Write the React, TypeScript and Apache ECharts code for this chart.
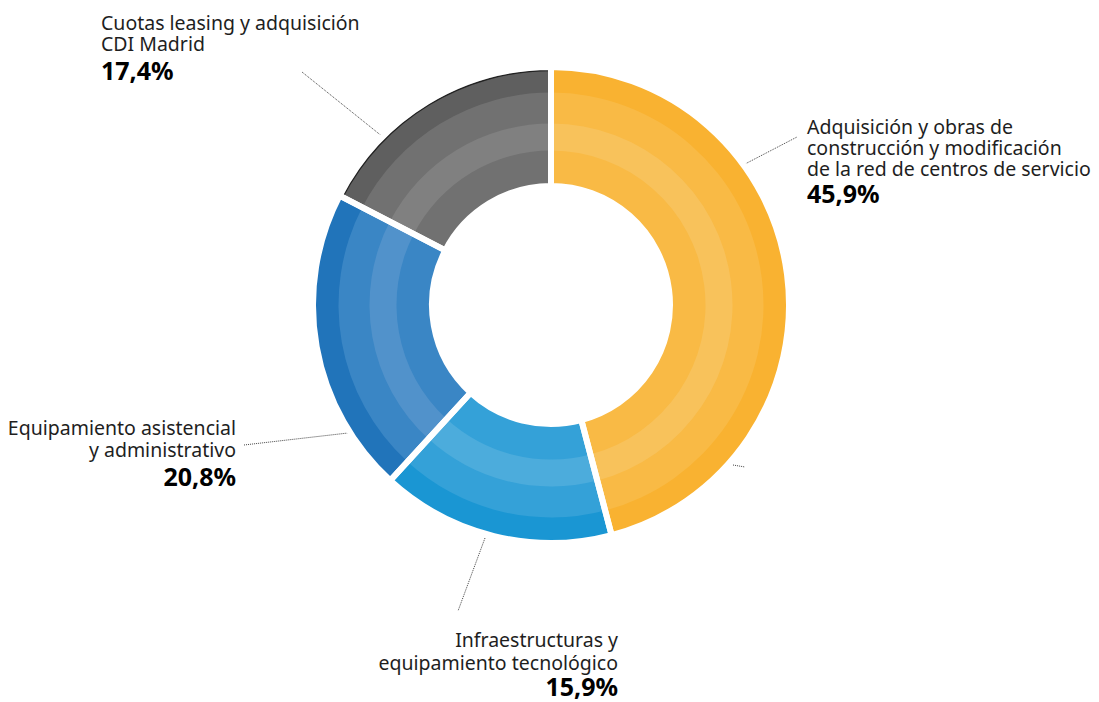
import React, { useEffect, useRef } from "react";
import * as echarts from "echarts";

const categories = [
  "Adquisición y obras de construcción y modificación de la red de centros de servicio",
  "Infraestructuras y equipamiento tecnológico",
  "Equipamiento asistencial y administrativo",
  "Cuotas leasing y adquisición CDI Madrid",
];
const values = [45.9, 15.9, 20.8, 17.4];
const labelLines = [
  ["Adquisición y obras de", "construcción y modificación", "de la red de centros de servicio"],
  ["Infraestructuras y", "equipamiento tecnológico"],
  ["Equipamiento asistencial", "y administrativo"],
  ["Cuotas leasing y adquisición", "CDI Madrid"],
];
const outerColors = ["#F9B231", "#1A96D3", "#2174BA", "#5F5F5F"];
const midColors = ["#F9BA45", "#34A1D8", "#3A86C5", "#717171"];
const lightColors = ["#F8C25B", "#4CACDC", "#5192CB", "#808080"];

const CX = 551;
const CY = 305;

export default function App() {
  const ref = useRef<HTMLDivElement>(null);
  useEffect(() => {
    if (!ref.current) return;
    const chart = echarts.init(ref.current, null, { renderer: "svg" });
    const ring = (name: string, r0: number, r1: number, colors: string[]) => ({
      type: "pie",
      name,
      center: [CX, CY],
      radius: [r0, r1],
      startAngle: 90,
      clockwise: true,
      silent: true,
      label: { show: false },
      labelLine: { show: false },
      emphasis: { disabled: true },
      data: categories.map((c, i) => ({ name: c, value: values[i], itemStyle: { color: colors[i] } })),
    });
    const fmt = (v: number) => v.toFixed(1).replace(".", ",") + "%";
    const labelPos = [
      { x: 807, align: "left", top: 115.5, lh: 21, bh: 29 },
      { x: 618, align: "right", top: 627.5, lh: 23, bh: 24 },
      { x: 236, align: "right", top: 416, lh: 22, bh: 32 },
      { x: 101, align: "left", top: 11.5, lh: 21, bh: 33 },
    ];
    const texts: any[] = [];
    categories.forEach((_, i) => {
      const p = labelPos[i];
      const content =
        labelLines[i].map((ln) => "{r|" + ln + "}").join("\n") + "\n{b|" + fmt(values[i]) + "}";
      texts.push({
        type: "text",
        x: p.x,
        y: p.top,
        style: {
          text: content,
          align: p.align,
          verticalAlign: "top",
          rich: {
            r: {
              fontFamily: "Noto Sans",
              fontSize: 19.5,
              lineHeight: p.lh,
              fill: "#1e1e1e",
              color: "#1e1e1e",
            },
            b: {
              fontFamily: "Noto Sans",
              fontWeight: "bold",
              fontSize: 25,
              lineHeight: p.bh,
              fill: "#000",
              color: "#000",
            },
          },
        },
      });
    });
    const leaders = [
      [745, 164, 797, 137],
      [485, 538, 458, 611],
      [244, 445, 348, 433],
      [302, 72, 383, 137],
      [733, 465, 745, 467],
    ];
    leaders.forEach(([x1, y1, x2, y2]) => {
      texts.push({
        type: "line",
        shape: { x1, y1, x2, y2 },
        style: { stroke: "#444", lineWidth: 1, lineDash: [1, 1] },
      });
    });
    chart.setOption({
      animation: false,
      backgroundColor: "#fff",
      series: [
        ring("outer", 211, 238, outerColors),
        ring("mid", 180, 212.5, midColors),
        ring("light", 153, 181.5, lightColors),
        ring("inner", 119, 154.5, midColors),
        {
          type: "pie",
          name: "edge",
          center: [CX, CY],
          radius: [233.8, 235.2],
          startAngle: 90,
          clockwise: true,
          silent: true,
          label: { show: false },
          labelLine: { show: false },
          data: categories.map((c, i) => ({
            name: c,
            value: values[i],
            itemStyle: { color: i === 3 ? "#222" : "rgba(0,0,0,0)" },
          })),
        },
        {
          type: "pie",
          name: "gaps",
          center: [CX, CY],
          radius: [119, 238],
          startAngle: 90,
          clockwise: true,
          silent: true,
          label: { show: false },
          labelLine: { show: false },
          data: categories.map((c, i) => ({
            name: c,
            value: values[i],
            itemStyle: { color: "rgba(0,0,0,0)", borderColor: "#fff", borderWidth: 6 },
          })),
        },
      ],
      graphic: texts,
    });
    return () => chart.dispose();
  }, []);
  return <div ref={ref} style={{ position: "absolute", left: 0, top: 0, width: 1099, height: 702 }} />;
}
